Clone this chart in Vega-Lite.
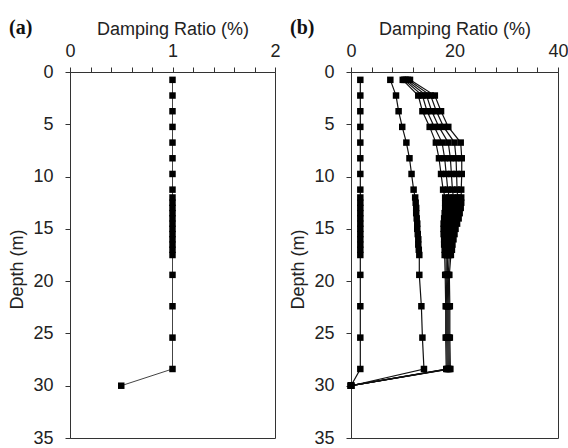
{
  "$schema": "https://vega.github.io/schema/vega-lite/v6.json",
  "background": "white",
  "padding": {"left": 8, "top": 17, "right": 5, "bottom": 2},
  "config": {
    "font": "Liberation Sans",
    "view": {"stroke": "#333", "strokeWidth": 1},
    "concat": {"spacing": 8},
    "axis": {"grid": false, "domainColor": "#333", "tickColor": "#333", "labelColor": "#222", "titleColor": "#222", "labelFontSize": 18, "titleFontSize": 18, "titleFontWeight": "normal", "labelFont": "Liberation Sans", "titleFont": "Liberation Sans", "tickSize": 5, "labelOverlap": false, "labelFlush": false},
    "title": {"font": "Liberation Serif", "fontWeight": "bold", "fontSize": 20, "color": "#111"}
  },
  "datasets": {
    "a": [
      {"series": "a", "depth": 0.75, "ratio": 1}, {"series": "a", "depth": 2.25, "ratio": 1}, {"series": "a", "depth": 3.75, "ratio": 1}, {"series": "a", "depth": 5.25, "ratio": 1}, {"series": "a", "depth": 6.75, "ratio": 1}, {"series": "a", "depth": 8.25, "ratio": 1}, {"series": "a", "depth": 9.75, "ratio": 1}, {"series": "a", "depth": 11.25, "ratio": 1},
      {"series": "a", "depth": 12, "ratio": 1}, {"series": "a", "depth": 12.5, "ratio": 1}, {"series": "a", "depth": 13, "ratio": 1}, {"series": "a", "depth": 13.5, "ratio": 1}, {"series": "a", "depth": 14, "ratio": 1}, {"series": "a", "depth": 14.5, "ratio": 1}, {"series": "a", "depth": 15, "ratio": 1}, {"series": "a", "depth": 15.5, "ratio": 1}, {"series": "a", "depth": 16, "ratio": 1}, {"series": "a", "depth": 16.5, "ratio": 1}, {"series": "a", "depth": 17, "ratio": 1}, {"series": "a", "depth": 17.5, "ratio": 1},
      {"series": "a", "depth": 19.4, "ratio": 1}, {"series": "a", "depth": 22.4, "ratio": 1}, {"series": "a", "depth": 25.4, "ratio": 1}, {"series": "a", "depth": 28.4, "ratio": 1}, {"series": "a", "depth": 30, "ratio": 0.5}
    ],
    "b": [
      {"series": "s1", "depth": 0.75, "ratio": 1.8}, {"series": "s1", "depth": 2.25, "ratio": 1.8}, {"series": "s1", "depth": 3.75, "ratio": 1.8}, {"series": "s1", "depth": 5.25, "ratio": 1.8}, {"series": "s1", "depth": 6.75, "ratio": 1.8}, {"series": "s1", "depth": 8.25, "ratio": 1.8}, {"series": "s1", "depth": 9.75, "ratio": 1.8}, {"series": "s1", "depth": 11.25, "ratio": 1.8},
      {"series": "s1", "depth": 12, "ratio": 1.8}, {"series": "s1", "depth": 12.5, "ratio": 1.8}, {"series": "s1", "depth": 13, "ratio": 1.8}, {"series": "s1", "depth": 13.5, "ratio": 1.8}, {"series": "s1", "depth": 14, "ratio": 1.8}, {"series": "s1", "depth": 14.5, "ratio": 1.8}, {"series": "s1", "depth": 15, "ratio": 1.8}, {"series": "s1", "depth": 15.5, "ratio": 1.8}, {"series": "s1", "depth": 16, "ratio": 1.8}, {"series": "s1", "depth": 16.5, "ratio": 1.8}, {"series": "s1", "depth": 17, "ratio": 1.8}, {"series": "s1", "depth": 17.5, "ratio": 1.8},
      {"series": "s1", "depth": 19.4, "ratio": 1.8}, {"series": "s1", "depth": 22.4, "ratio": 1.8}, {"series": "s1", "depth": 25.4, "ratio": 1.8}, {"series": "s1", "depth": 28.4, "ratio": 1.8}, {"series": "s1", "depth": 30, "ratio": 0},

      {"series": "s2", "depth": 0.75, "ratio": 7.6}, {"series": "s2", "depth": 2.25, "ratio": 8.7}, {"series": "s2", "depth": 3.75, "ratio": 9.2}, {"series": "s2", "depth": 5.25, "ratio": 9.9}, {"series": "s2", "depth": 6.75, "ratio": 10.7}, {"series": "s2", "depth": 8.25, "ratio": 11.3}, {"series": "s2", "depth": 9.75, "ratio": 11.7}, {"series": "s2", "depth": 11.25, "ratio": 12.1},
      {"series": "s2", "depth": 12, "ratio": 12.4}, {"series": "s2", "depth": 12.5, "ratio": 12.5}, {"series": "s2", "depth": 13, "ratio": 12.6}, {"series": "s2", "depth": 13.5, "ratio": 12.6}, {"series": "s2", "depth": 14, "ratio": 12.7}, {"series": "s2", "depth": 14.5, "ratio": 12.8}, {"series": "s2", "depth": 15, "ratio": 12.8}, {"series": "s2", "depth": 15.5, "ratio": 12.9}, {"series": "s2", "depth": 16, "ratio": 13.0}, {"series": "s2", "depth": 16.5, "ratio": 13.0}, {"series": "s2", "depth": 17, "ratio": 13.1}, {"series": "s2", "depth": 17.5, "ratio": 13.2},
      {"series": "s2", "depth": 19.4, "ratio": 13.2}, {"series": "s2", "depth": 22.4, "ratio": 13.6}, {"series": "s2", "depth": 25.4, "ratio": 13.8}, {"series": "s2", "depth": 28.4, "ratio": 14.1}, {"series": "s2", "depth": 30, "ratio": 0},

      {"series": "r1", "depth": 0.75, "ratio": 10.0}, {"series": "r1", "depth": 2.25, "ratio": 13.0}, {"series": "r1", "depth": 3.75, "ratio": 13.8}, {"series": "r1", "depth": 5.25, "ratio": 15.2}, {"series": "r1", "depth": 6.75, "ratio": 16.4}, {"series": "r1", "depth": 8.25, "ratio": 17.0}, {"series": "r1", "depth": 9.75, "ratio": 17.4}, {"series": "r1", "depth": 11.25, "ratio": 17.8},
      {"series": "r1", "depth": 12, "ratio": 18.2}, {"series": "r1", "depth": 12.5, "ratio": 18.2}, {"series": "r1", "depth": 13, "ratio": 18.2}, {"series": "r1", "depth": 13.5, "ratio": 18.1}, {"series": "r1", "depth": 14, "ratio": 18.0}, {"series": "r1", "depth": 14.5, "ratio": 17.9}, {"series": "r1", "depth": 15, "ratio": 17.9}, {"series": "r1", "depth": 15.5, "ratio": 17.9}, {"series": "r1", "depth": 16, "ratio": 18.0}, {"series": "r1", "depth": 16.5, "ratio": 18.0}, {"series": "r1", "depth": 17, "ratio": 18.1}, {"series": "r1", "depth": 17.5, "ratio": 18.1},
      {"series": "r1", "depth": 19.4, "ratio": 18.2}, {"series": "r1", "depth": 22.4, "ratio": 18.3}, {"series": "r1", "depth": 25.4, "ratio": 18.3}, {"series": "r1", "depth": 28.4, "ratio": 18.4}, {"series": "r1", "depth": 30, "ratio": 0},

      {"series": "r2", "depth": 0.75, "ratio": 10.3}, {"series": "r2", "depth": 2.25, "ratio": 13.8}, {"series": "r2", "depth": 3.75, "ratio": 14.7}, {"series": "r2", "depth": 5.25, "ratio": 16.1}, {"series": "r2", "depth": 6.75, "ratio": 17.6}, {"series": "r2", "depth": 8.25, "ratio": 18.1}, {"series": "r2", "depth": 9.75, "ratio": 18.4}, {"series": "r2", "depth": 11.25, "ratio": 18.7},
      {"series": "r2", "depth": 12, "ratio": 19.0}, {"series": "r2", "depth": 12.5, "ratio": 19.0}, {"series": "r2", "depth": 13, "ratio": 19.0}, {"series": "r2", "depth": 13.5, "ratio": 18.9}, {"series": "r2", "depth": 14, "ratio": 18.8}, {"series": "r2", "depth": 14.5, "ratio": 18.6}, {"series": "r2", "depth": 15, "ratio": 18.5}, {"series": "r2", "depth": 15.5, "ratio": 18.4}, {"series": "r2", "depth": 16, "ratio": 18.4}, {"series": "r2", "depth": 16.5, "ratio": 18.4}, {"series": "r2", "depth": 17, "ratio": 18.4}, {"series": "r2", "depth": 17.5, "ratio": 18.4},
      {"series": "r2", "depth": 19.4, "ratio": 18.4}, {"series": "r2", "depth": 22.4, "ratio": 18.5}, {"series": "r2", "depth": 25.4, "ratio": 18.5}, {"series": "r2", "depth": 28.4, "ratio": 18.6}, {"series": "r2", "depth": 30, "ratio": 0},

      {"series": "r3", "depth": 0.75, "ratio": 10.6}, {"series": "r3", "depth": 2.25, "ratio": 14.6}, {"series": "r3", "depth": 3.75, "ratio": 15.6}, {"series": "r3", "depth": 5.25, "ratio": 17.0}, {"series": "r3", "depth": 6.75, "ratio": 18.8}, {"series": "r3", "depth": 8.25, "ratio": 19.2}, {"series": "r3", "depth": 9.75, "ratio": 19.4}, {"series": "r3", "depth": 11.25, "ratio": 19.6},
      {"series": "r3", "depth": 12, "ratio": 19.8}, {"series": "r3", "depth": 12.5, "ratio": 19.8}, {"series": "r3", "depth": 13, "ratio": 19.8}, {"series": "r3", "depth": 13.5, "ratio": 19.7}, {"series": "r3", "depth": 14, "ratio": 19.5}, {"series": "r3", "depth": 14.5, "ratio": 19.3}, {"series": "r3", "depth": 15, "ratio": 19.1}, {"series": "r3", "depth": 15.5, "ratio": 19.0}, {"series": "r3", "depth": 16, "ratio": 18.9}, {"series": "r3", "depth": 16.5, "ratio": 18.8}, {"series": "r3", "depth": 17, "ratio": 18.8}, {"series": "r3", "depth": 17.5, "ratio": 18.7},
      {"series": "r3", "depth": 19.4, "ratio": 18.6}, {"series": "r3", "depth": 22.4, "ratio": 18.7}, {"series": "r3", "depth": 25.4, "ratio": 18.7}, {"series": "r3", "depth": 28.4, "ratio": 18.8}, {"series": "r3", "depth": 30, "ratio": 0},

      {"series": "r4", "depth": 0.75, "ratio": 11.0}, {"series": "r4", "depth": 2.25, "ratio": 15.4}, {"series": "r4", "depth": 3.75, "ratio": 16.5}, {"series": "r4", "depth": 5.25, "ratio": 17.9}, {"series": "r4", "depth": 6.75, "ratio": 20.0}, {"series": "r4", "depth": 8.25, "ratio": 20.3}, {"series": "r4", "depth": 9.75, "ratio": 20.4}, {"series": "r4", "depth": 11.25, "ratio": 20.5},
      {"series": "r4", "depth": 12, "ratio": 20.6}, {"series": "r4", "depth": 12.5, "ratio": 20.6}, {"series": "r4", "depth": 13, "ratio": 20.5}, {"series": "r4", "depth": 13.5, "ratio": 20.4}, {"series": "r4", "depth": 14, "ratio": 20.2}, {"series": "r4", "depth": 14.5, "ratio": 20.0}, {"series": "r4", "depth": 15, "ratio": 19.7}, {"series": "r4", "depth": 15.5, "ratio": 19.5}, {"series": "r4", "depth": 16, "ratio": 19.3}, {"series": "r4", "depth": 16.5, "ratio": 19.2}, {"series": "r4", "depth": 17, "ratio": 19.1}, {"series": "r4", "depth": 17.5, "ratio": 19.0},
      {"series": "r4", "depth": 19.4, "ratio": 18.8}, {"series": "r4", "depth": 22.4, "ratio": 18.9}, {"series": "r4", "depth": 25.4, "ratio": 18.9}, {"series": "r4", "depth": 28.4, "ratio": 19.0}, {"series": "r4", "depth": 30, "ratio": 0},

      {"series": "r5", "depth": 0.75, "ratio": 11.4}, {"series": "r5", "depth": 2.25, "ratio": 16.2}, {"series": "r5", "depth": 3.75, "ratio": 17.4}, {"series": "r5", "depth": 5.25, "ratio": 18.8}, {"series": "r5", "depth": 6.75, "ratio": 21.2}, {"series": "r5", "depth": 8.25, "ratio": 21.4}, {"series": "r5", "depth": 9.75, "ratio": 21.4}, {"series": "r5", "depth": 11.25, "ratio": 21.3},
      {"series": "r5", "depth": 12, "ratio": 21.3}, {"series": "r5", "depth": 12.5, "ratio": 21.3}, {"series": "r5", "depth": 13, "ratio": 21.2}, {"series": "r5", "depth": 13.5, "ratio": 21.0}, {"series": "r5", "depth": 14, "ratio": 20.8}, {"series": "r5", "depth": 14.5, "ratio": 20.5}, {"series": "r5", "depth": 15, "ratio": 20.2}, {"series": "r5", "depth": 15.5, "ratio": 20.0}, {"series": "r5", "depth": 16, "ratio": 19.8}, {"series": "r5", "depth": 16.5, "ratio": 19.6}, {"series": "r5", "depth": 17, "ratio": 19.5}, {"series": "r5", "depth": 17.5, "ratio": 19.3},
      {"series": "r5", "depth": 19.4, "ratio": 19.0}, {"series": "r5", "depth": 22.4, "ratio": 19.1}, {"series": "r5", "depth": 25.4, "ratio": 19.1}, {"series": "r5", "depth": 28.4, "ratio": 19.2}, {"series": "r5", "depth": 30, "ratio": 0}
    ]
  },
  "hconcat": [
    {
      "title": {"text": "(a)", "anchor": "start", "frame": "bounds", "offset": -18},
      "width": 205,
      "height": 366,
      "data": {"name": "a"},
      "encoding": {
        "x": {"field": "ratio", "type": "quantitative", "scale": {"domain": [0, 2], "nice": false, "zero": false},
          "axis": {"orient": "top", "title": "Damping Ratio (%)", "values": [0, 0.2, 0.4, 0.6, 0.8, 1, 1.2, 1.4, 1.6, 1.8, 2], "format": "~g", "labelExpr": "datum.value % 1 === 0 ? datum.label : ''", "labelPadding": 7, "titlePadding": 4}},
        "y": {"field": "depth", "type": "quantitative", "scale": {"domain": [0, 35], "reverse": true, "nice": false},
          "axis": {"title": "Depth (m)", "values": [0, 5, 10, 15, 20, 25, 30, 35], "labelPadding": 12, "titlePadding": 6, "titleY": 197}},
        "detail": {"field": "series"},
        "order": {"field": "depth"}
      },
      "layer": [
        {"mark": {"type": "line", "stroke": "#444", "strokeWidth": 1}},
        {"mark": {"type": "point", "shape": "square", "filled": true, "color": "#000", "size": 42, "opacity": 1}}
      ]
    },
    {
      "title": {"text": "(b)", "anchor": "start", "frame": "bounds", "offset": -18},
      "width": 207,
      "height": 366,
      "data": {"name": "b"},
      "encoding": {
        "x": {"field": "ratio", "type": "quantitative", "scale": {"domain": [0, 40], "nice": false},
          "axis": {"orient": "top", "title": "Damping Ratio (%)", "values": [0, 4, 8, 12, 16, 20, 24, 28, 32, 36, 40], "format": "~g", "labelExpr": "datum.value % 20 === 0 ? datum.label : ''", "labelPadding": 7, "titlePadding": 4}},
        "y": {"field": "depth", "type": "quantitative", "scale": {"domain": [0, 35], "reverse": true, "nice": false},
          "axis": {"title": "Depth (m)", "values": [0, 5, 10, 15, 20, 25, 30, 35], "labelPadding": 12, "titlePadding": 6, "titleY": 197}},
        "detail": {"field": "series"},
        "order": {"field": "depth"}
      },
      "layer": [
        {"mark": {"type": "line", "stroke": "#111", "strokeWidth": 1.2}},
        {"mark": {"type": "point", "shape": "square", "filled": true, "color": "#000", "size": 42, "opacity": 1}}
      ]
    }
  ]
}
